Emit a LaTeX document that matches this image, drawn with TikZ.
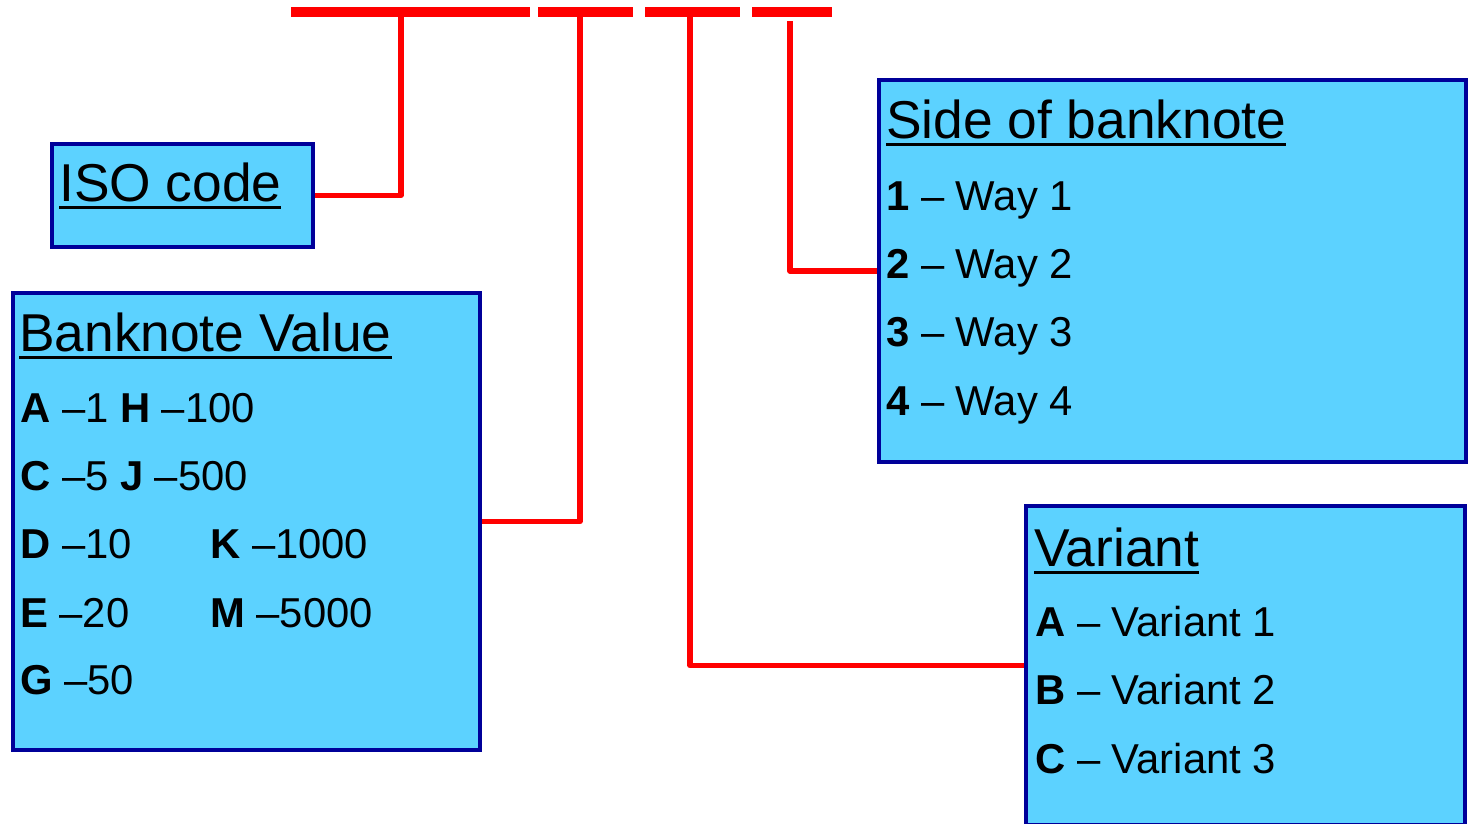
\documentclass[tikz,border=0pt]{standalone}
\usepackage{fontspec}
\setmainfont{Liberation Sans}
\definecolor{boxfill}{RGB}{92,210,255}
\definecolor{boxline}{RGB}{0,0,153}
\definecolor{conn}{RGB}{255,0,0}
\newcommand\myul[1]{\setbox0\hbox{#1}\rlap{\rule[-8pt]{\wd0}{3.5pt}}\box0}
\begin{document}
\begin{tikzpicture}[x=1pt,y=1pt,
 box/.style={draw=boxline, fill=boxfill, line width=4pt, rectangle, inner sep=0pt, outer sep=0pt},
 ttl/.style={anchor=base west, inner sep=0pt, font=\fontsize{53.3}{60}\selectfont},
 itm/.style={anchor=base west, inner sep=0pt, font=\fontsize{41.8}{48}\selectfont},
 bar/.style={draw=conn, line width=10pt},
 link/.style={draw=conn, line width=5.5pt, line join=round}]
\useasboundingbox (0,0) rectangle (1471,-823);
\clip (0,0) rectangle (1471,-823);

% top bar
\draw[bar] (291,-12) -- (530,-12);
\draw[bar] (538,-12) -- (633,-12);
\draw[bar] (645,-12) -- (740,-12);
\draw[bar] (752,-12) -- (832,-12);

\coordinate (t1) at (401,-12);
\coordinate (t2) at (580,-12);
\coordinate (t3) at (690,-12);
\coordinate (t4) at (790,-21);

% boxes
\node[box, minimum width=261pt, minimum height=103.5pt] (iso) at (182.5,-195.25) {};
\node[box, minimum width=467pt, minimum height=457pt] (bv) at (246.5,-521.5) {};
\node[box, minimum width=587pt, minimum height=382pt] (side) at (1172.5,-271) {};
\node[box, minimum width=439pt, minimum height=319pt] (var) at (1245.5,-665.5) {};

% connectors
\draw[link] (iso.east) -| (t1);
\draw[link] (bv.east) -| (t2);
\draw[link] (var.west) -| (t3);
\draw[link] (side.west) -| (t4);

% redraw box borders over connector ends
\draw[boxline, line width=4pt] (iso.south west) rectangle (iso.north east);
\draw[boxline, line width=4pt] (bv.south west) rectangle (bv.north east);
\draw[boxline, line width=4pt] (side.south west) rectangle (side.north east);
\draw[boxline, line width=4pt] (var.south west) rectangle (var.north east);

% ISO code
\node[ttl] (isot) at (59,-201) {\myul{ISO code}};

% Banknote Value
\node[ttl] (bvt) at (19,-351) {\myul{Banknote Value}};
\node[itm] (bv1) at (20,-422) {\textbf{A} –1 \textbf{H} –100};
\node[itm] (bv2) at (20,-490) {\textbf{C} –5 \textbf{J} –500};
\node[itm] (bv3) at (20,-558) {\textbf{D} –10};
\node[itm] (bv3b) at (210,-558) {\textbf{K} –1000};
\node[itm] (bv4) at (20,-627) {\textbf{E} –20};
\node[itm] (bv4b) at (210,-627) {\textbf{M} –5000};
\node[itm] (bv5) at (20,-694) {\textbf{G} –50};

% Side of banknote
\node[ttl] (sidet) at (886,-138) {\myul{Side of banknote}};
\node[itm] (s1) at (886,-210) {\textbf{1} – Way 1};
\node[itm] (s2) at (886,-278) {\textbf{2} – Way 2};
\node[itm] (s3) at (886,-346) {\textbf{3} – Way 3};
\node[itm] (s4) at (886,-415) {\textbf{4} – Way 4};

% Variant
\node[ttl] (vart) at (1034,-566) {\myul{Variant}};
\node[itm] (v1) at (1035,-636) {\textbf{A} – Variant 1};
\node[itm] (v2) at (1035,-704) {\textbf{B} – Variant 2};
\node[itm] (v3) at (1035,-773) {\textbf{C} – Variant 3};
\end{tikzpicture}
\end{document}
